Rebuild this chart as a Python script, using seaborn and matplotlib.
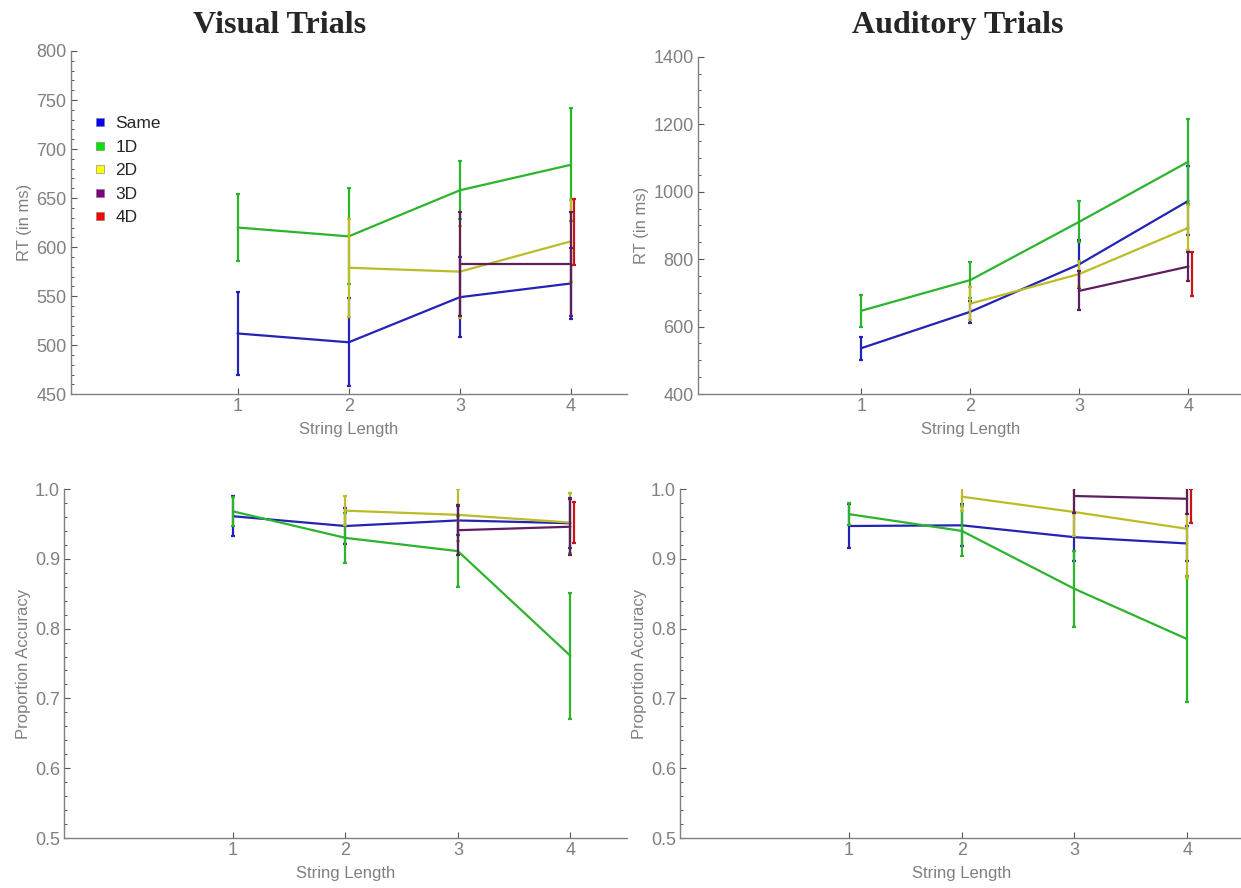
import numpy as np
import pandas as pd
import matplotlib
matplotlib.use("Agg")
import matplotlib.pyplot as plt
import seaborn as sns
from matplotlib.ticker import MultipleLocator, FixedLocator
from matplotlib.lines import Line2D

nan = np.nan
conditions = ["Same", "1D", "2D", "3D", "4D"]
string_length = [1, 2, 3, 4]

# ---- Visual RT (ms) ----
vis_rt_same = [512, 503, 549, 563]
vis_rt_same_err = [42, 45, 41, 36]
vis_rt_1d = [620, 611, 658, 684]
vis_rt_1d_err = [34, 49, 29.5, 57.5]
vis_rt_2d = [nan, 579, 575, 606]
vis_rt_2d_err = [nan, 50, 47, 42]
vis_rt_3d = [nan, nan, 582.5, 582.5]
vis_rt_3d_err = [nan, nan, 53, 53]
vis_rt_4d = [nan, nan, nan, 615.5]
vis_rt_4d_err = [nan, nan, nan, 33.5]

# ---- Auditory RT (ms) ----
aud_rt_same = [536, 644, 785, 973]
aud_rt_same_err = [34.5, 33, 71, 103]
aud_rt_1d = [647, 738, 911, 1089]
aud_rt_1d_err = [47, 53, 61, 127]
aud_rt_2d = [nan, 668, 756, 893]
aud_rt_2d_err = [nan, 48, 38, 67]
aud_rt_3d = [nan, nan, 706, 778]
aud_rt_3d_err = [nan, nan, 58, 43]
aud_rt_4d = [nan, nan, nan, 756]
aud_rt_4d_err = [nan, nan, nan, 66]

# ---- Visual accuracy ----
vis_acc_same = [0.961, 0.947, 0.955, 0.951]
vis_acc_same_err = [0.029, 0.026, 0.021, 0.035]
vis_acc_1d = [0.968, 0.930, 0.911, 0.761]
vis_acc_1d_err = [0.021, 0.036, 0.051, 0.090]
vis_acc_2d = [nan, 0.969, 0.963, 0.952]
vis_acc_2d_err = [nan, 0.021, 0.037, 0.043]
vis_acc_3d = [nan, nan, 0.941, 0.946]
vis_acc_3d_err = [nan, nan, 0.036, 0.041]
vis_acc_4d = [nan, nan, nan, 0.952]
vis_acc_4d_err = [nan, nan, nan, 0.029]

# ---- Auditory accuracy ----
aud_acc_same = [0.947, 0.948, 0.931, 0.922]
aud_acc_same_err = [0.031, 0.030, 0.034, 0.025]
aud_acc_1d = [0.964, 0.940, 0.857, 0.785]
aud_acc_1d_err = [0.016, 0.036, 0.054, 0.090]
aud_acc_2d = [nan, 0.989, 0.967, 0.943]
aud_acc_2d_err = [nan, 0.021, 0.035, 0.070]
aud_acc_3d = [nan, nan, 0.990, 0.986]
aud_acc_3d_err = [nan, nan, 0.024, 0.022]
aud_acc_4d = [nan, nan, nan, 0.976]
aud_acc_4d_err = [nan, nan, nan, 0.024]

line_colors = {"Same": "#2323b4", "1D": "#2db42d", "2D": "#bcbc28",
               "3D": "#5e1f5e", "4D": "#c81414"}
legend_colors = {"Same": "#0000ff", "1D": "#00e600", "2D": "#ffff00",
                 "3D": "#800080", "4D": "#ff0000"}
x_offset = {"Same": 0.0, "1D": 0.0, "2D": 0.0, "3D": 0.0, "4D": 0.03}


def make_df(means, errs):
    rows = []
    for cond, m, e in zip(conditions, means, errs):
        for x, v, er in zip(string_length, m, e):
            rows.append({"length": x, "value": v, "err": er, "cond": cond})
    return pd.DataFrame(rows)


panels = [
    ("vis_rt", make_df([vis_rt_same, vis_rt_1d, vis_rt_2d, vis_rt_3d, vis_rt_4d],
                       [vis_rt_same_err, vis_rt_1d_err, vis_rt_2d_err, vis_rt_3d_err, vis_rt_4d_err])),
    ("aud_rt", make_df([aud_rt_same, aud_rt_1d, aud_rt_2d, aud_rt_3d, aud_rt_4d],
                       [aud_rt_same_err, aud_rt_1d_err, aud_rt_2d_err, aud_rt_3d_err, aud_rt_4d_err])),
    ("vis_acc", make_df([vis_acc_same, vis_acc_1d, vis_acc_2d, vis_acc_3d, vis_acc_4d],
                        [vis_acc_same_err, vis_acc_1d_err, vis_acc_2d_err, vis_acc_3d_err, vis_acc_4d_err])),
    ("aud_acc", make_df([aud_acc_same, aud_acc_1d, aud_acc_2d, aud_acc_3d, aud_acc_4d],
                        [aud_acc_same_err, aud_acc_1d_err, aud_acc_2d_err, aud_acc_3d_err, aud_acc_4d_err])),
]

sns.set_style("white")
plt.rcParams["font.family"] = ["Liberation Sans", "DejaVu Sans"]

fig = plt.figure(figsize=(12.41, 8.88), dpi=100)
positions = {
    "vis_rt": [0.0570, 0.556, 0.448, 0.3866],
    "aud_rt": [0.5624, 0.5563, 0.4392, 0.3798],
    "vis_acc": [0.0517, 0.0563, 0.4533, 0.393],
    "aud_acc": [0.548, 0.0563, 0.454, 0.393],
}
ylims = {"vis_rt": (450, 800), "aud_rt": (400, 1400),
         "vis_acc": (0.5, 1.0), "aud_acc": (0.5, 1.0)}
major = {"vis_rt": 50, "aud_rt": 200, "vis_acc": 0.1, "aud_acc": 0.1}
minor = {"vis_rt": 10, "aud_rt": 50, "vis_acc": 0.02, "aud_acc": 0.02}
ylabels = {"vis_rt": "RT (in ms)", "aud_rt": "RT (in ms)",
           "vis_acc": "Proportion Accuracy", "aud_acc": "Proportion Accuracy"}

gray = "#808080"
axes = {}
for name, df in panels:
    ax = fig.add_axes(positions[name])
    axes[name] = ax
    dfl = df.dropna(subset=["value"])
    sns.lineplot(data=dfl, x="length", y="value", hue="cond", hue_order=conditions,
                 palette=line_colors, errorbar=None, legend=False, lw=1.6, ax=ax,
                 sort=True)
    for cond in conditions:
        sub = dfl[dfl["cond"] == cond]
        ax.errorbar(sub["length"] + x_offset[cond], sub["value"], yerr=sub["err"],
                    fmt="none", ecolor=line_colors[cond], elinewidth=1.6,
                    capsize=1.6, capthick=1.6, clip_on=True)
    ax.set_xlim(-0.5, 4.5)
    ax.set_ylim(*ylims[name])
    ax.xaxis.set_major_locator(FixedLocator(string_length))
    ax.yaxis.set_major_locator(MultipleLocator(major[name]))
    ax.yaxis.set_minor_locator(MultipleLocator(minor[name]))
    if "acc" in name:
        ax.yaxis.set_major_formatter(matplotlib.ticker.FormatStrFormatter("%.1f"))
    for s in ["top", "right"]:
        ax.spines[s].set_visible(False)
    for s in ["left", "bottom"]:
        ax.spines[s].set_color(gray)
        ax.spines[s].set_linewidth(1.0)
    ax.tick_params(axis="both", which="major", direction="in", length=4,
                   width=0.8, color="#555555", labelcolor=gray, labelsize=13,
                   left=True, bottom=True, pad=3)
    ax.tick_params(axis="y", which="minor", direction="in", length=2.5,
                   width=0.7, color="#555555", left=True)
    ax.set_xlabel("String Length", color=gray, fontsize=12, labelpad=5)
    ax.set_ylabel(ylabels[name], color=gray, fontsize=12, labelpad=3)
    ax.set_facecolor("white")

handles = [Line2D([0], [0], marker="s", linestyle="none", markersize=6,
                  markerfacecolor=legend_colors[c], markeredgecolor="#777777",
                  markeredgewidth=0.4, label=c) for c in conditions]
axes["vis_rt"].legend(handles=handles, loc="upper left", bbox_to_anchor=(0.027, 0.83),
                      frameon=False, fontsize=12.5, handlelength=0.8,
                      handletextpad=0.5, labelspacing=0.48, borderaxespad=0)

fig.text(0.2255, 0.971, "Visual Trials", ha="center", va="center",
         fontsize=23, fontweight="bold", family="Liberation Serif")
fig.text(0.7715, 0.971, "Auditory Trials", ha="center", va="center",
         fontsize=23, fontweight="bold", family="Liberation Serif")

fig.savefig("out.png", dpi=100, facecolor="white")
